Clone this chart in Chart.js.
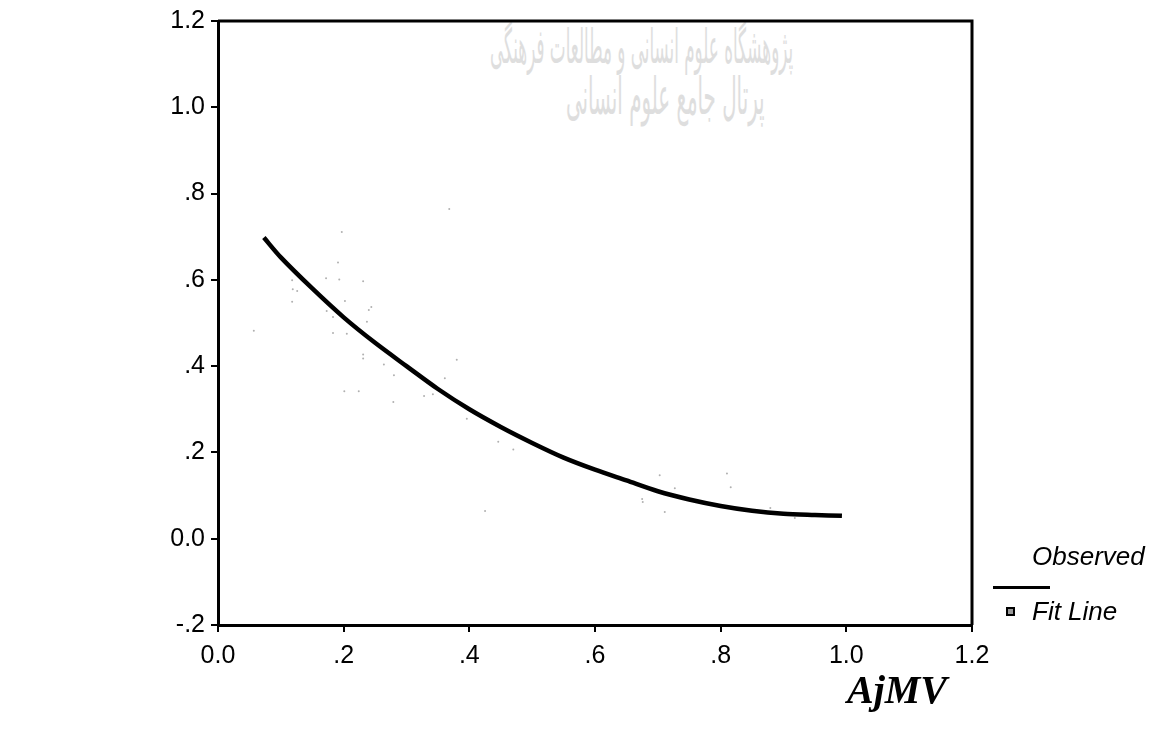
<!DOCTYPE html>
<html>
<head>
<meta charset="utf-8">
<script src="https://cdn.jsdelivr.net/npm/chart.js@4"></script>
<style>
  body { margin: 0; background: #fff; }
  #wrap { position: relative; width: 1150px; height: 732px; overflow: hidden; }
  canvas { position: absolute; left: 0; top: 0; }
  .wm { position: absolute; font-family: "DejaVu Sans"; color: #dedede; white-space: nowrap; direction: rtl; transform-origin: left top; }
  .leg { position: absolute; font-family: "Liberation Sans", Arial, sans-serif; font-style: italic; font-size: 26px; color: #000; white-space: nowrap; }
  #xtitle { position: absolute; left: 847px; top: 666px; font-family: "Liberation Serif", "Times New Roman", serif; font-weight: bold; font-style: italic; font-size: 40px; color: #000; }
</style>
</head>
<body>
<div id="wrap">
  <div class="wm" style="left:490px; top:18px; font-size:30px; transform:scale(0.56,1.6);">پژوهشگاه علوم انسانی و مطالعات فرهنگی</div>
  <div class="wm" style="left:566px; top:66px; font-size:32px; transform:scale(0.62,1.6);">پرتال جامع علوم انسانی</div>
  <canvas id="chart" width="1150" height="732"></canvas>
  <div class="leg" style="left:1032px; top:541px;">Observed</div>
  <div style="position:absolute; left:993px; top:586px; width:57px; height:3px; background:#000;"></div>
  <div style="position:absolute; left:1006px; top:607px; width:5px; height:5px; border:2px solid #000; background:#999;"></div>
  <div class="leg" style="left:1032px; top:596px;">Fit Line</div>
  <div id="xtitle">AjMV</div>
</div>
<script>
// fit line
const fitX = [0.073, 0.10, 0.15, 0.20, 0.25, 0.30, 0.35, 0.40, 0.45, 0.50, 0.55, 0.60, 0.65, 0.70, 0.75, 0.80, 0.85, 0.90, 0.95, 0.993];
const fitY = [0.698, 0.652, 0.580, 0.513, 0.454, 0.400, 0.347, 0.300, 0.259, 0.222, 0.188, 0.160, 0.135, 0.110, 0.091, 0.076, 0.065, 0.058, 0.055, 0.053];

// faint observed dots
const obsX = [0.197, 0.191, 0.172, 0.193, 0.231, 0.118, 0.119, 0.126, 0.118, 0.202, 0.244, 0.240, 0.173, 0.183, 0.057, 0.183, 0.205, 0.237, 0.231, 0.231, 0.264, 0.280, 0.380, 0.361, 0.201, 0.224, 0.279, 0.328, 0.342, 0.368, 0.446, 0.470, 0.396, 0.703, 0.675, 0.676, 0.711, 0.810, 0.816, 0.727, 0.879, 0.918, 0.425];
const obsY = [0.711, 0.640, 0.604, 0.601, 0.597, 0.599, 0.578, 0.574, 0.549, 0.551, 0.537, 0.530, 0.528, 0.514, 0.482, 0.477, 0.475, 0.503, 0.427, 0.418, 0.404, 0.379, 0.415, 0.372, 0.342, 0.342, 0.317, 0.331, 0.335, 0.764, 0.225, 0.207, 0.278, 0.147, 0.092, 0.085, 0.062, 0.151, 0.119, 0.117, 0.071, 0.048, 0.064];

const xTicks = [0, 0.2, 0.4, 0.6, 0.8, 1.0, 1.2];
const yTicks = [-0.2, 0, 0.2, 0.4, 0.6, 0.8, 1.0, 1.2];

function fmt(v) {
    let s = (Math.round(v * 10) / 10).toFixed(1);
    if (Math.abs(v) < 0.999 && Math.abs(v) > 0.001) s = s.replace("0.", ".");
    return s;
}

// top and right edge of the frame
const framePlugin = {
    id: "frame",
    afterDraw(chart) {
        const a = chart.chartArea;
        const ctx = chart.ctx;
        ctx.save();
        ctx.strokeStyle = "#000";
        ctx.lineWidth = 3;
        ctx.beginPath();
        ctx.moveTo(a.left, a.top);
        ctx.lineTo(a.right, a.top);
        ctx.lineTo(a.right, a.bottom);
        ctx.stroke();
        ctx.restore();
    }
};

const tickFont = { family: "Liberation Sans", size: 25 };

new Chart(document.getElementById("chart"), {
    type: "scatter",
    data: {
        datasets: [{
            label: "Fit Line",
            data: fitX.map((x, i) => ({ x: x, y: fitY[i] })),
            showLine: true,
            borderColor: "#000",
            borderWidth: 4.5,
            pointRadius: 0,
            tension: 0.3,
            order: 1
        }, {
            label: "Observed",
            data: obsX.map((x, i) => ({ x: x, y: obsY[i] })),
            pointRadius: 1,
            pointBorderWidth: 0,
            backgroundColor: "#b0b0b0",
            order: 2
        }]
    },
    options: {
        responsive: false,
        animation: false,
        layout: { padding: { left: 0, top: 15, right: 178, bottom: 0 } },
        plugins: { legend: { display: false }, tooltip: { enabled: false } },
        scales: {
            x: {
                type: "linear",
                min: 0, max: 1.2,
                afterBuildTicks: s => { s.ticks = xTicks.map(v => ({ value: v })); },
                afterFit: s => { s.height = 107; },
                ticks: { callback: v => fmt(v), color: "#000", font: tickFont, padding: 9, maxRotation: 0 },
                grid: { drawOnChartArea: false, drawTicks: true, tickLength: 7, color: "#000", lineWidth: 2 },
                border: { display: true, color: "#000", width: 3 }
            },
            y: {
                type: "linear",
                min: -0.2, max: 1.2,
                afterBuildTicks: s => { s.ticks = yTicks.map(v => ({ value: v })); },
                afterFit: s => { s.width = 218; },
                ticks: { callback: v => fmt(v), color: "#000", font: tickFont, padding: 6 },
                grid: { drawOnChartArea: false, drawTicks: true, tickLength: 7, color: "#000", lineWidth: 2 },
                border: { display: true, color: "#000", width: 3 }
            }
        }
    },
    plugins: [framePlugin]
});
</script>
</body>
</html>
